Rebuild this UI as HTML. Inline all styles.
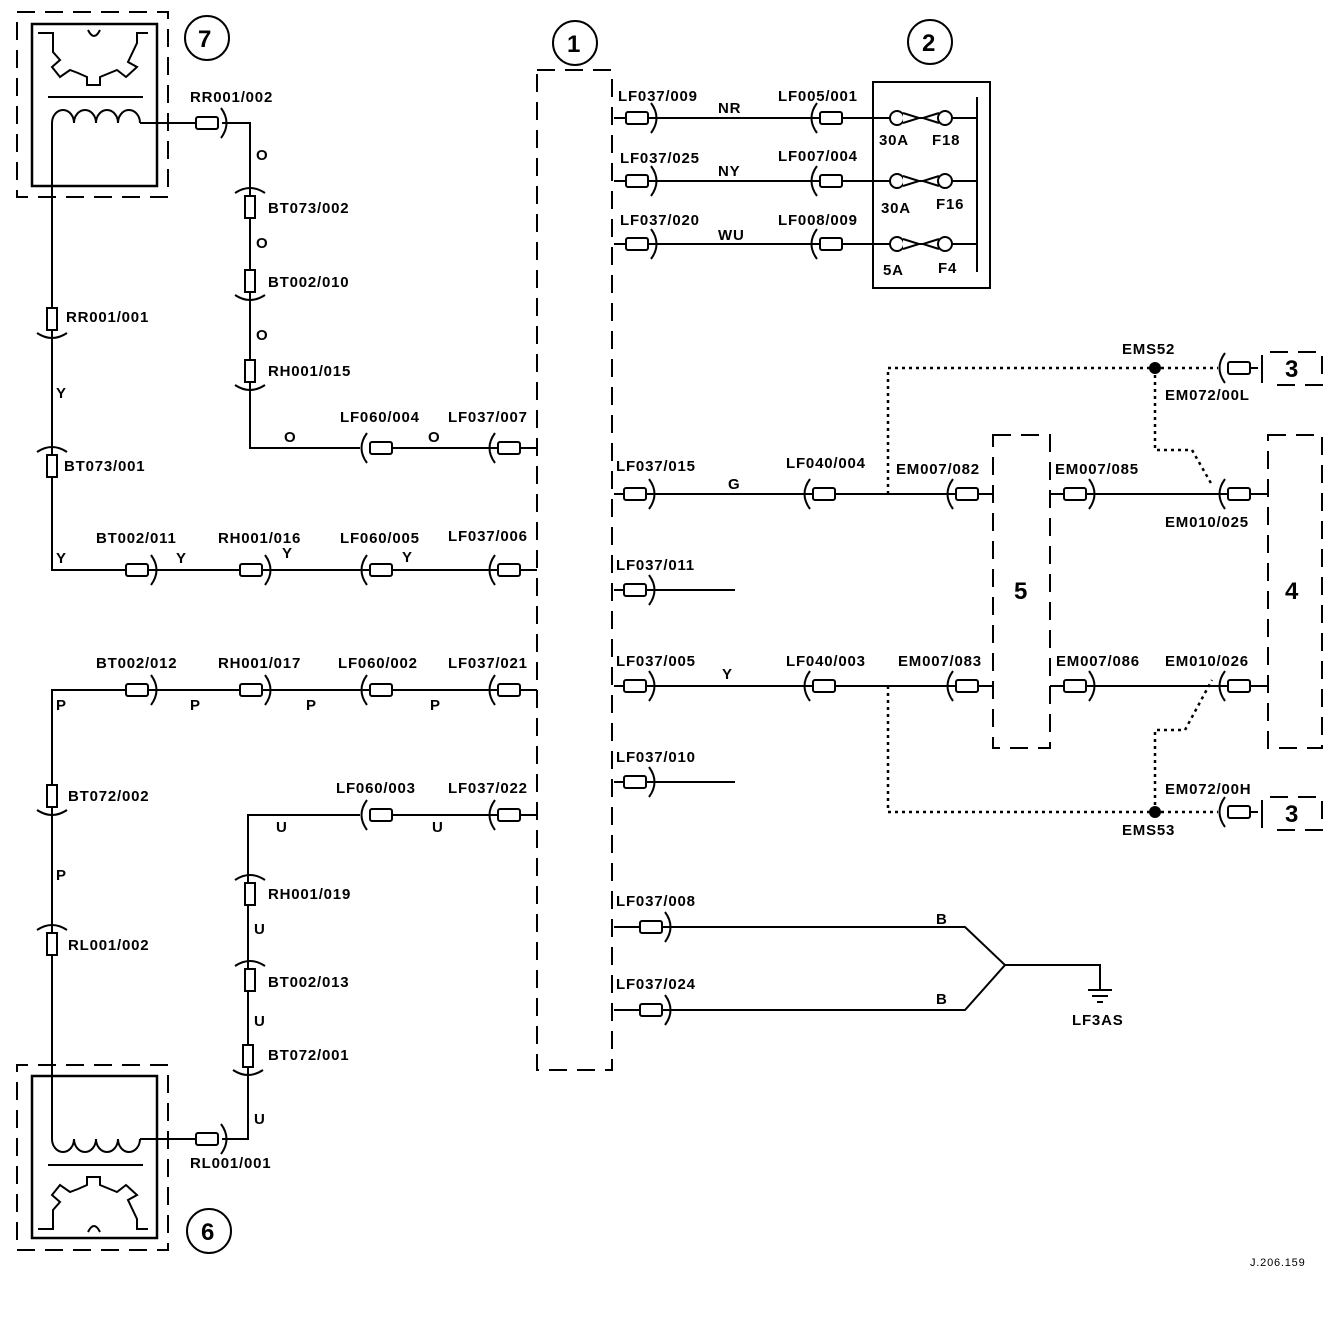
<!DOCTYPE html>
<html><head><meta charset="utf-8"><style>
html,body{margin:0;padding:0;background:#fff;}
svg{display:block;}
text{font-family:"Liberation Sans",sans-serif;font-size:15px;font-weight:bold;fill:#000;letter-spacing:0.8px;}
.big{font-size:24px;}
</style></head><body>
<svg width="1344" height="1320" viewBox="0 0 1344 1320" xmlns="http://www.w3.org/2000/svg">
<defs>
<g id="cr"><rect x="-12" y="-6" width="22" height="12" rx="2" fill="#fff" stroke="#000" stroke-width="2"/><path d="M13,-15 Q24,0 13,15" fill="none" stroke="#000" stroke-width="2"/></g>
<g id="cl"><rect x="-10" y="-6" width="22" height="12" rx="2" fill="#fff" stroke="#000" stroke-width="2"/><path d="M-13,-15 Q-24,0 -13,15" fill="none" stroke="#000" stroke-width="2"/></g>
<g id="cu"><rect x="-5" y="-11" width="10" height="22" fill="#fff" stroke="#000" stroke-width="2"/><path d="M-15,-14 Q0,-24 15,-14" fill="none" stroke="#000" stroke-width="2"/></g>
<g id="cd"><rect x="-5" y="-11" width="10" height="22" fill="#fff" stroke="#000" stroke-width="2"/><path d="M-15,14 Q0,24 15,14" fill="none" stroke="#000" stroke-width="2"/></g>
<g id="fuse"><circle cx="0" cy="0" r="7" fill="#fff" stroke="#000" stroke-width="2"/><path d="M6,-5 L22,0 L6,5 M42,-5 L26,0 L42,5" fill="#fff" stroke="#000" stroke-width="2"/><circle cx="48" cy="0" r="7" fill="#fff" stroke="#000" stroke-width="2"/></g>
<g id="mech">
<rect x="32" y="24" width="125" height="162" fill="none" stroke="#000" stroke-width="2.5"/>
<polyline points="38,33 53,33 53,52 60,60 52,67 60,77 70,70 78,73 87,77 87,85 100,85 100,77 117,70 126,77 137,67 128,62 137,43 137,33 148,33" fill="none" stroke="#000" stroke-width="2"/>
<path d="M88,30 Q94,42 100,30" fill="none" stroke="#000" stroke-width="2"/>
<line x1="48" y1="97" x2="143" y2="97" stroke="#000" stroke-width="2"/>
<path d="M52,123 A11,13 0 0 1 74,123 A11,13 0 0 1 96,123 A11,13 0 0 1 118,123 A11,13 0 0 1 140,123" fill="none" stroke="#000" stroke-width="2"/>
<path d="M17,12 L168,12 L168,197 L17,197 Z" fill="none" stroke="#000" stroke-width="2" stroke-dasharray="18,10"/>
</g>
</defs>
<g stroke="#000" stroke-width="2" fill="none">
<use href="#mech"/>
<path d="M52,123 L52,570 L126,570"/>
<path d="M140,123 L200,123"/>
<path d="M222,123 L250,123 L250,448 L360,448"/>
<use href="#mech" transform="translate(0,1262) scale(1,-1)"/>
<path d="M52,1139 L52,690 L126,690"/>
<path d="M140,1139 L200,1139"/>
<path d="M222,1139 L248,1139 L248,815 L360,815"/>
<path d="M126,570 L537,570 M126,690 L537,690 M380,448 L537,448 M380,815 L537,815"/>
<path d="M537,70 L612,70 L612,1070 L537,1070 Z" stroke-dasharray="18,10"/>
<circle cx="575" cy="43" r="22"/><circle cx="930" cy="42" r="22"/>
<circle cx="207" cy="38" r="22"/><circle cx="209" cy="1231" r="22"/>
<path d="M614,118 L873,118 M614,181 L873,181 M614,244 L873,244"/>
<rect x="873" y="82" width="117" height="206" stroke-width="2"/>
<path d="M873,118 L977,118 M873,181 L977,181 M873,244 L977,244 M977,97 L977,272"/>
<path d="M614,494 L992,494 M1050,494 L1268,494"/>
<path d="M614,590 L735,590 M614,782 L735,782"/>
<path d="M614,686 L992,686 M1050,686 L1268,686"/>
<path d="M614,927 L965,927 L1005,965 L965,1010 L614,1010 M1005,965 L1100,965 L1100,990 M1088,990 L1112,990 M1092,996 L1108,996 M1097,1002 L1103,1002"/>
<g stroke-dasharray="3,4" stroke-width="2.5">
<path d="M888,494 L888,368 L1218,368 M1155,368 L1155,450 L1192,450 L1212,485"/>
<path d="M888,686 L888,812 L1218,812 M1155,812 L1155,730 L1185,730 L1212,680"/>
</g>
<path d="M1238,368 L1258,368 M1238,812 L1258,812"/>
<g stroke-dasharray="18,10">
<path d="M993,435 L1050,435 L1050,748 L993,748 Z"/>
<path d="M1268,435 L1322,435 L1322,748 L1268,748 Z"/>
<path d="M1270,352 L1322,352 L1322,385 L1270,385"/>
<path d="M1270,797 L1322,797 L1322,830 L1270,830"/>
</g>
<path d="M1262,355 L1262,383 M1262,800 L1262,828"/>
</g>
<circle cx="1155" cy="368" r="6" fill="#000"/><circle cx="1155" cy="812" r="6" fill="#000"/>
<use href="#cr" x="208" y="123"/><use href="#cr" x="208" y="1139"/>
<use href="#cu" x="250" y="207"/><use href="#cd" x="250" y="281"/><use href="#cd" x="250" y="371"/>
<use href="#cl" x="380" y="448"/><use href="#cl" x="508" y="448"/>
<use href="#cd" x="52" y="319"/><use href="#cu" x="52" y="466"/>
<use href="#cr" x="138" y="570"/><use href="#cr" x="252" y="570"/><use href="#cl" x="380" y="570"/><use href="#cl" x="508" y="570"/>
<use href="#cr" x="138" y="690"/><use href="#cr" x="252" y="690"/><use href="#cl" x="380" y="690"/><use href="#cl" x="508" y="690"/>
<use href="#cd" x="52" y="796"/><use href="#cu" x="52" y="944"/>
<use href="#cu" x="250" y="894"/><use href="#cu" x="250" y="980"/><use href="#cd" x="248" y="1056"/>
<use href="#cl" x="380" y="815"/><use href="#cl" x="508" y="815"/>
<use href="#cr" x="638" y="118"/><use href="#cr" x="638" y="181"/><use href="#cr" x="638" y="244"/>
<use href="#cl" x="830" y="118"/><use href="#cl" x="830" y="181"/><use href="#cl" x="830" y="244"/>
<use href="#fuse" x="897" y="118"/><use href="#fuse" x="897" y="181"/><use href="#fuse" x="897" y="244"/>
<use href="#cr" x="636" y="494"/><use href="#cl" x="823" y="494"/><use href="#cl" x="966" y="494"/><use href="#cr" x="1076" y="494"/><use href="#cl" x="1238" y="494"/>
<use href="#cr" x="636" y="590"/>
<use href="#cr" x="636" y="686"/><use href="#cl" x="823" y="686"/><use href="#cl" x="966" y="686"/><use href="#cr" x="1076" y="686"/><use href="#cl" x="1238" y="686"/>
<use href="#cr" x="636" y="782"/>
<use href="#cl" x="1238" y="368"/><use href="#cl" x="1238" y="812"/>
<use href="#cr" x="652" y="927"/><use href="#cr" x="652" y="1010"/>
<text class="big" x="198" y="47">7</text><text class="big" x="567" y="52">1</text><text class="big" x="922" y="51">2</text><text class="big" x="201" y="1240">6</text>
<text class="big" x="1014" y="599">5</text><text class="big" x="1285" y="599">4</text><text class="big" x="1285" y="377">3</text><text class="big" x="1285" y="822">3</text>
<text x="190" y="102">RR001/002</text><text x="256" y="160">O</text><text x="268" y="213">BT073/002</text><text x="256" y="248">O</text><text x="268" y="287">BT002/010</text><text x="256" y="340">O</text><text x="268" y="376">RH001/015</text>
<text x="284" y="442">O</text><text x="340" y="422">LF060/004</text><text x="428" y="442">O</text><text x="448" y="422">LF037/007</text>
<text x="66" y="322">RR001/001</text><text x="56" y="398">Y</text><text x="64" y="471">BT073/001</text><text x="56" y="563">Y</text>
<text x="96" y="543">BT002/011</text><text x="176" y="563">Y</text><text x="218" y="543">RH001/016</text><text x="282" y="558">Y</text><text x="340" y="543">LF060/005</text><text x="402" y="562">Y</text><text x="448" y="541">LF037/006</text>
<text x="96" y="668">BT002/012</text><text x="56" y="710">P</text><text x="190" y="710">P</text><text x="218" y="668">RH001/017</text><text x="306" y="710">P</text><text x="338" y="668">LF060/002</text><text x="430" y="710">P</text><text x="448" y="668">LF037/021</text>
<text x="68" y="801">BT072/002</text><text x="56" y="880">P</text><text x="68" y="950">RL001/002</text>
<text x="276" y="832">U</text><text x="336" y="793">LF060/003</text><text x="432" y="832">U</text><text x="448" y="793">LF037/022</text>
<text x="268" y="899">RH001/019</text><text x="254" y="934">U</text><text x="268" y="987">BT002/013</text><text x="254" y="1026">U</text><text x="268" y="1060">BT072/001</text><text x="254" y="1124">U</text><text x="190" y="1168">RL001/001</text>
<text x="618" y="101">LF037/009</text><text x="718" y="113">NR</text><text x="778" y="101">LF005/001</text>
<text x="620" y="163">LF037/025</text><text x="718" y="176">NY</text><text x="778" y="161">LF007/004</text>
<text x="620" y="225">LF037/020</text><text x="718" y="240">WU</text><text x="778" y="225">LF008/009</text>
<text x="879" y="145">30A</text><text x="932" y="145">F18</text><text x="881" y="213">30A</text><text x="936" y="209">F16</text><text x="883" y="275">5A</text><text x="938" y="273">F4</text>
<text x="1122" y="354">EMS52</text><text x="1165" y="400">EM072/00L</text>
<text x="616" y="471">LF037/015</text><text x="728" y="489">G</text><text x="786" y="468">LF040/004</text><text x="896" y="474">EM007/082</text><text x="1055" y="474">EM007/085</text><text x="1165" y="527">EM010/025</text>
<text x="616" y="570">LF037/011</text>
<text x="616" y="666">LF037/005</text><text x="722" y="679">Y</text><text x="786" y="666">LF040/003</text><text x="898" y="666">EM007/083</text><text x="1056" y="666">EM007/086</text><text x="1165" y="666">EM010/026</text>
<text x="616" y="762">LF037/010</text>
<text x="1165" y="794">EM072/00H</text><text x="1122" y="835">EMS53</text>
<text x="616" y="906">LF037/008</text><text x="936" y="924">B</text><text x="616" y="989">LF037/024</text><text x="936" y="1004">B</text><text x="1072" y="1025">LF3AS</text>
<text x="1250" y="1266" style="font-size:11px;font-weight:normal">J.206.159</text>
</svg>
</body></html>
